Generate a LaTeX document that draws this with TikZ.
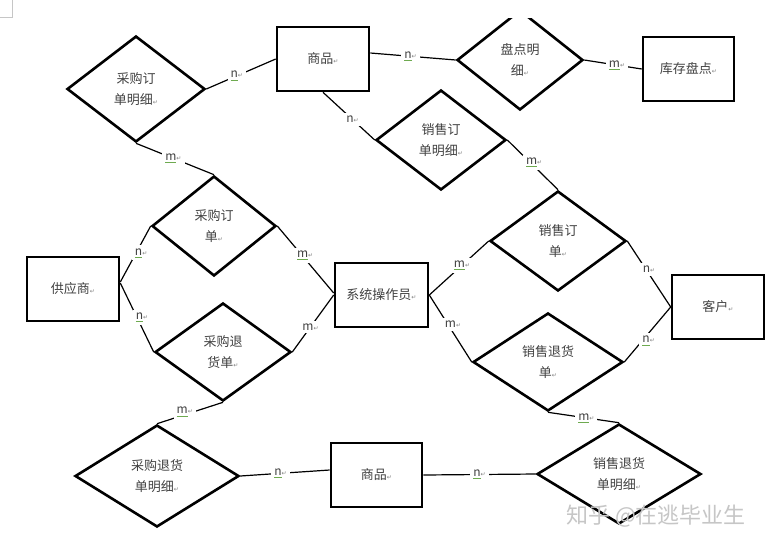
\documentclass[tikz,border=0pt]{standalone}
\usepackage{fontspec}
\setmainfont{Noto Sans CJK SC}
\newfontfamily\symf{DejaVu Sans}
\usetikzlibrary{shapes.geometric,calc}
\definecolor{spellgreen}{RGB}{110,170,80}
\definecolor{txt}{RGB}{65,65,65}
\newlength\gwl
\newcommand\gwave[1]{\settowidth\gwl{#1}\rlap{\color{spellgreen}\rule[-2.4pt]{\gwl}{0.6pt}}#1}
\newcommand\ret{{\symf\fontsize{6}{6}\selectfont\color{gray}↵}}
\tikzset{
  ent/.style={rectangle, draw, line width=2.6pt, minimum height=64, inner sep=0pt,
    font=\fontsize{13}{21}\selectfont, text=txt},
  rel/.style={diamond, draw, line width=2.6pt, inner sep=0pt, align=center,
    font=\fontsize{13}{21}\selectfont, text=txt},
  con/.style={line width=1.2pt},
  lab/.style={fill=white, inner sep=3pt, font=\fontsize{12}{13}\selectfont, text=txt},
}
\begin{document}
\begin{tikzpicture}[x=1pt, y=-1pt]
\fill[white] (0,0) rectangle (767,547);
\useasboundingbox (0,0) rectangle (767,547);
\draw[gray!45, line width=0.6pt] (12,0) -- (12,17) -- (0,17);

% entities
\node[ent, minimum width=92] (g1) at (323,59) {商品\ret};
\node[ent, minimum width=91] (r1) at (688.5,69) {库存盘点\ret};
\node[ent, minimum width=92] (r2) at (73,289) {供应商\ret};
\node[ent, minimum width=93] (r3) at (381.5,295) {系统操作员\ret};
\node[ent, minimum width=92] (r4) at (718,307) {客户\ret};
\node[ent, minimum width=91] (g2) at (376.5,475) {商品\ret};

% relationships
\node[rel, minimum width=138, minimum height=106] (d1) at (136,89) {采购订\\单明细\ret};
\begin{scope}
  \clip (0,18) rectangle (767,547);
  \node[rel, minimum width=126, minimum height=100] (d2) at (520,60) {盘点明\\细\ret};
\end{scope}
\node[rel, minimum width=130, minimum height=100] (d3) at (441,140) {销售订\\单明细\ret};
\node[rel, minimum width=124, minimum height=100] (d4) at (214,226) {采购订\\单\ret};
\node[rel, minimum width=136, minimum height=100] (d5) at (558,241) {销售订\\单\ret};
\node[rel, minimum width=136, minimum height=98] (d6) at (223,352) {采购退\\货单\ret};
\node[rel, minimum width=164, minimum height=102] (d7) at (157,476) {采购退货\\单明细\ret};
\node[rel, minimum width=150, minimum height=98] (d8) at (548,362) {销售退货\\单\ret};
\node[rel, minimum width=164, minimum height=100] (d9) at (619,474) {销售退货\\单明细\ret};

% connectors
\draw[con] (d1.east) -- node[lab,pos=.44] (l1) {\gwave{n}\ret} (g1.west);
\draw[con] ($(g1.east)+(0,-6)$) -- node[lab,pos=.47] (l2) {\gwave{n}\ret} (d2.west);
\draw[con] (d2.east) -- node[lab,pos=.57] (l3) {\gwave{m}\ret} (r1.west);
\draw[con] (g1.south) -- node[lab,pos=.57] (l4) {n\ret} (d3.west);
\draw[con] (d1.south) -- node[lab,pos=.48] (l5) {\gwave{m}\ret} (d4.north);
\draw[con] (d3.east) -- node[lab,pos=.45,xshift=4pt] (l6) {\gwave{m}\ret} (d5.north);
\draw[con] ($(r2.east)+(0,-7)$) -- node[lab,pos=.52,xshift=5pt] (l7) {\gwave{n}\ret} (d4.west);
\draw[con] ($(r2.east)+(0,-6)$) -- node[lab,pos=.5,xshift=5pt] (l8) {\gwave{n}\ret} (d6.west);
\draw[con] (d4.east) -- node[lab,pos=.44,xshift=3pt] (l9) {\gwave{m}\ret} ($(r3.west)+(0,-2)$);
\draw[con] (r3.west) -- node[lab,pos=.56] (l10) {m\ret} (d6.east);
\draw[con] (d6.south) -- node[lab,pos=.58,yshift=3pt] (l11) {\gwave{m}\ret} (d7.north);
\draw[con] (r3.east) -- node[lab,pos=.55] (l12) {\gwave{m}\ret} (d5.west);
\draw[con] (r3.east) -- node[lab,pos=.44,xshift=5pt] (l13) {m\ret} (d8.west);
\draw[con] (d5.east) -- node[lab,pos=.43,xshift=3pt] (l14) {n\ret} (r4.west);
\draw[con] (r4.west) -- node[lab,pos=.54,xshift=3pt,yshift=-4pt] (l15) {\gwave{n}\ret} (d8.east);
\draw[con] (d8.south) -- node[lab,pos=.54] (l16) {\gwave{m}\ret} (d9.north);
\draw[con] (d7.east) -- node[lab,pos=.45] (l17) {\gwave{n}\ret} ($(g2.west)+(0,-5)$);
\draw[con] (g2.east) -- node[lab,pos=.5] (l18) {\gwave{n}\ret} (d9.west);

% watermark
\node[font=\fontsize{22}{22}\selectfont, text=gray!45] (wm) at (656,516) {知乎 @在逃毕业生};
\end{tikzpicture}
\end{document}
